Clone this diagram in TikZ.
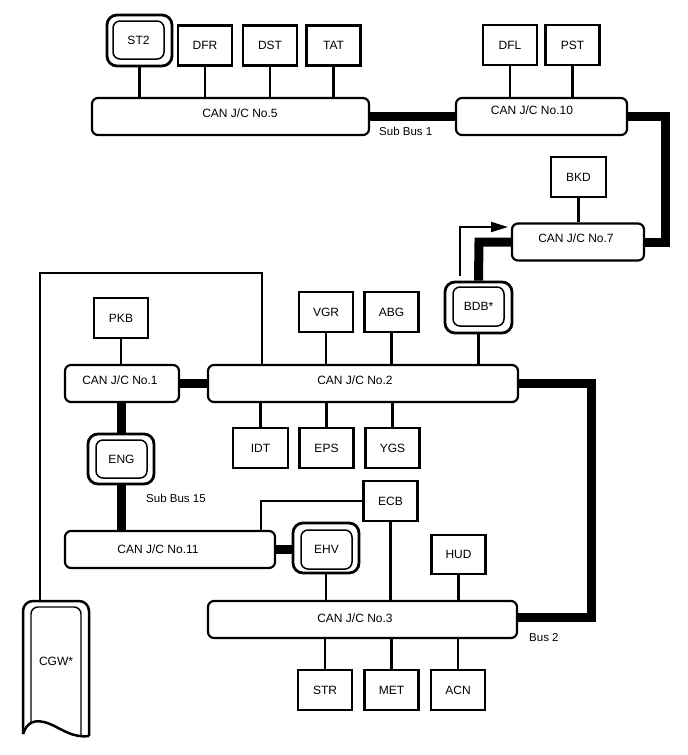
\documentclass[tikz,border=0pt]{standalone}
\usepackage{fontspec}
\setmainfont{Liberation Sans}
\usetikzlibrary{arrows.meta}
\begin{document}
\begin{tikzpicture}[x=1pt,y=-1pt,
  every node/.style={font=\fontsize{12}{14}\selectfont, inner sep=0pt},
  ecu/.style={draw, line width=2.2pt, minimum width=54pt, minimum height=40pt},
  jc/.style={draw, line width=2.2pt, rounded corners=6pt, minimum height=37pt},
  dblout/.style={draw, line width=2.8pt, rounded corners=10pt},
  dblin/.style={draw, line width=1.5pt, rounded corners=7pt},
  stub/.style={line width=2.1pt},
  bus/.style={line width=9pt, line join=miter},
  lbl/.style={font=\fontsize{11.5}{13}\selectfont}
]
\useasboundingbox (0,0) rectangle (688,755);

% ---- top row ----
\node[dblout, minimum width=65pt, minimum height=51pt] (ST2o) at (139.5,40.5) {};
\node[dblin, minimum width=51pt, minimum height=38pt] (ST2) at (138.5,40) {ST2};
\node[ecu] (DFR) at (205,45.5) {DFR};
\node[ecu] (DST) at (270,45.5) {DST};
\node[ecu] (TAT) at (333.5,45.5) {TAT};
\node[jc, minimum width=277pt, label={[xshift=9.5pt,yshift=3pt]center:CAN J/C No.5}] (CAN5) at (230.5,116.5) {};

\node[ecu] (DFL) at (510,45) {DFL};
\node[ecu] (PST) at (572.5,45) {PST};
\node[jc, minimum width=171pt, label={[xshift=-9.5pt,yshift=6pt]center:CAN J/C No.10}] (CAN10) at (541.5,116.5) {};

\node[ecu, minimum width=55pt] (BKD) at (578.5,177) {BKD};
\node[jc, minimum width=132pt, label={[xshift=-2pt,yshift=4pt]center:CAN J/C No.7}] (CAN7) at (578,242) {};

\node[dblout, minimum width=67pt, minimum height=51pt] (BDBo) at (478.5,307.5) {};
\node[dblin, minimum width=51pt, minimum height=39pt] (BDB) at (478.5,306.5) {BDB*};

% ---- middle ----
\node[ecu] (PKB) at (121,318) {PKB};
\node[ecu] (VGR) at (326,312) {VGR};
\node[ecu] (ABG) at (391.5,312) {ABG};
\node[jc, minimum width=114pt, label={[xshift=-2pt,yshift=3pt]center:CAN J/C No.1}] (CAN1) at (122,383.5) {};
\node[jc, minimum width=310pt, label={[xshift=-8pt,yshift=3pt]center:CAN J/C No.2}] (CAN2) at (363,383.5) {};
\node[ecu, minimum width=55pt] (IDT) at (260.5,448) {IDT};
\node[ecu] (EPS) at (326.5,448) {EPS};
\node[ecu] (YGS) at (392.5,448) {YGS};

\node[dblout, minimum width=66pt, minimum height=50pt] (ENGo) at (121,459) {};
\node[dblin, minimum width=51pt, minimum height=38pt] (ENG) at (121.5,459) {ENG};

\node[ecu] (ECB) at (390.5,501) {ECB};
\node[jc, minimum width=210pt, label={[xshift=-12pt,yshift=0pt]center:CAN J/C No.11}] (CAN11) at (170,549.5) {};
\node[dblout, minimum width=66pt, minimum height=50pt] (EHVo) at (326,548) {};
\node[dblin, minimum width=51pt, minimum height=39pt] (EHV) at (326.5,549.5) {EHV};
\node[ecu, minimum height=39pt] (HUD) at (458.5,554.5) {HUD};

\node[jc, minimum width=309pt, label={[xshift=-7.5pt,yshift=1pt]center:CAN J/C No.3}] (CAN3) at (362.5,619.5) {};
\node[ecu] (STR) at (325,690) {STR};
\node[ecu] (MET) at (391.5,690) {MET};
\node[ecu] (ACN) at (458,690) {ACN};

% ---- CGW ----
\node (CGW) at (56,661) {CGW*};
\coordinate (CGWtop) at (40,601);
\draw[line width=2.5pt] (23,734) -- (23,611) arc[start angle=180,end angle=90,radius=10pt]
  -- (79,601) arc[start angle=90,end angle=0,radius=10pt] -- (89,736);
\draw[line width=2.5pt] (23,734) .. controls (27,722) and (35,718) .. (50,724)
  .. controls (62,729) and (72,738) .. (89,736);
\draw[line width=1.4pt] (31,722) -- (31,614) arc[start angle=180,end angle=90,radius=7pt]
  -- (74,607) arc[start angle=90,end angle=0,radius=7pt] -- (81,737);

% ---- labels ----
\node[lbl, anchor=west] (sb1) at (379,131) {Sub Bus 1};
\node[lbl, anchor=west] (sb15) at (146,498) {Sub Bus 15};
\node[lbl, anchor=west] (b2) at (529,638) {Bus 2};

% ---- stubs ----
\foreach \n in {ST2o,DFR,DST,TAT}
  \draw[stub] (\n.south) -- (\n.south |- CAN5.north);
\foreach \n in {DFL,PST}
  \draw[stub] (\n.south) -- (\n.south |- CAN10.north);
\draw[stub] (BKD.south) -- (BKD.south |- CAN7.north);
\foreach \n in {PKB}
  \draw[stub] (\n.south) -- (\n.south |- CAN1.north);
\foreach \n in {VGR,ABG,BDBo}
  \draw[stub] (\n.south) -- (\n.south |- CAN2.north);
\foreach \n in {IDT,EPS,YGS}
  \draw[stub] (\n.north) -- (\n.north |- CAN2.south);
\foreach \n in {EHVo,ECB,HUD}
  \draw[stub] (\n.south) -- (\n.south |- CAN3.north);
\foreach \n in {STR,MET,ACN}
  \draw[stub] (\n.north) -- (\n.north |- CAN3.south);

% loop line to CGW
\coordinate (lt) at (40,273);
\coordinate (rt) at (262,273);
\draw[stub, line join=miter] (CGWtop) -- (lt) -- (rt) -- (rt |- CAN2.north);
% ECB to CAN11
\coordinate (e11) at (261,501);
\draw[stub, line join=miter] (ECB.west) -- (e11) -- (e11 |- CAN11.north);

% ---- buses ----
\draw[bus] (CAN5.east) -- (CAN10.west);
\coordinate (r10) at (665,116.5);
\coordinate (r7) at (665,242);
\draw[bus] (CAN10.east) -- (r10) -- (r7) -- (CAN7.east);
\coordinate (l7) at (479,242);
\draw[bus] (CAN7.west) -- (l7) -- (BDBo.north);
\draw[bus] (CAN1.east) -- (CAN2.west);
\draw[bus] (ENGo.north |- CAN1.south) -- (ENGo.north);
\draw[bus] (ENGo.south) -- (ENGo.south |- CAN11.north);
\draw[bus] (CAN11.east) -- (EHVo.west |- CAN11.east);
\coordinate (b2a) at (591.5,383.5);
\coordinate (b2b) at (591.5,617);
\draw[bus] (CAN2.east) -- (b2a) -- (b2b) -- (CAN3.east |- b2b);

% arrow
\coordinate (a1) at (460,276);
\coordinate (a2) at (508,227);
\draw[line width=2pt, line join=miter, -{Triangle[length=17pt,width=10pt]}] (a1) |- (a2);
\end{tikzpicture}
\end{document}
